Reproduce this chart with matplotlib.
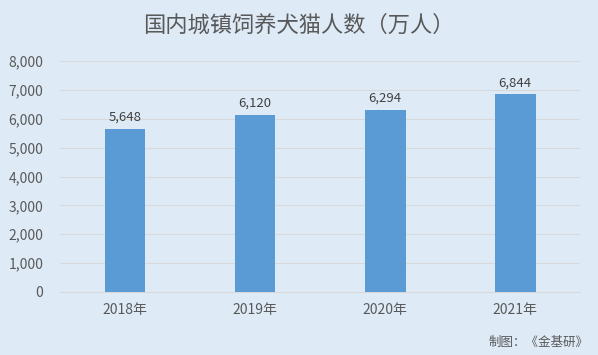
import matplotlib.pyplot as plt
from matplotlib.ticker import FuncFormatter

plt.rcParams['font.family'] = ['Noto Sans CJK SC', 'DejaVu Sans']

years = ["2018年", "2019年", "2020年", "2021年"]
owners = [5648, 6120, 6294, 6844]  # 万人

bg = "#DEEBF7"
txt = "#595959"

fig = plt.figure(figsize=(5.98, 3.55), dpi=100, facecolor=bg)
ax = fig.add_axes([0.1003, 0.1775, 0.8697, 0.6505], facecolor=bg)

x = range(len(years))
bars = ax.bar(x, owners, width=0.315, color="#5B9BD5", zorder=3)
for xi, v in zip(x, owners):
    ax.text(xi, v + 180, f"{v:,}", ha="center", va="bottom", fontsize=9.5, color="#404040")

ax.set_xlim(-0.5, 3.5)
ax.set_ylim(0, 8000)
ax.set_yticks(range(0, 8001, 1000))
ax.yaxis.set_major_formatter(FuncFormatter(lambda v, p: f"{int(v):,}"))
ax.set_xticks(list(x))
ax.set_xticklabels(years)
ax.tick_params(axis="both", length=0, labelsize=10, labelcolor=txt)
ax.tick_params(axis="x", pad=8)
ax.tick_params(axis="y", pad=12)
ax.grid(axis="y", color="#D9D9D9", lw=0.8, zorder=0)
for s in ["top", "right", "left"]:
    ax.spines[s].set_visible(False)
ax.spines["bottom"].set_color("#D9D9D9")

fig.text(0.5, 0.93, "国内城镇饲养犬猫人数（万人）", ha="center", va="center",
         fontsize=16, color=txt, fontweight="light")
fig.text(0.985, 0.035, "制图：《金基研》", ha="right", va="center", fontsize=9, color=txt)

fig.savefig("out.png", dpi=100, facecolor=bg)
